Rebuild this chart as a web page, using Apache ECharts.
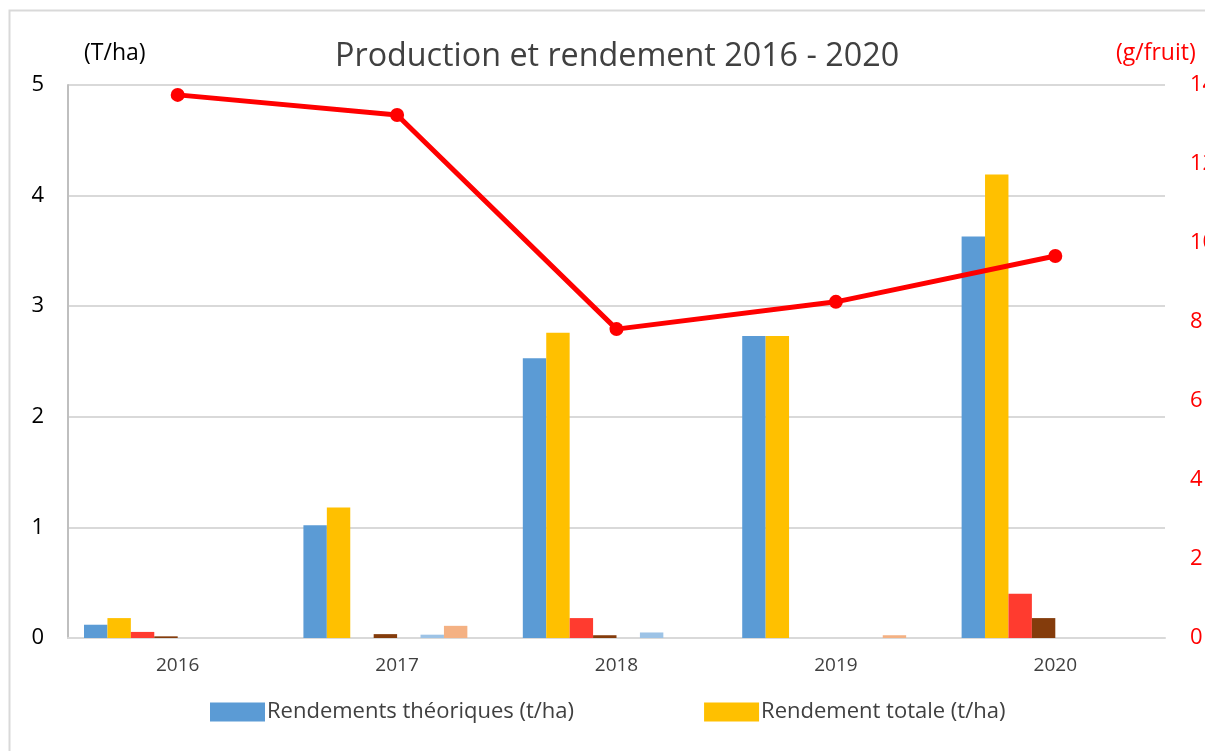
<!DOCTYPE html>
<html>
<head>
<meta charset="utf-8">
<script src="https://cdn.jsdelivr.net/npm/echarts@6/dist/echarts.min.js"></script>
<style>html,body{margin:0;padding:0;background:#fff}#c{width:1205px;height:751px}</style>
</head>
<body>
<div id="c"></div>
<script>
const categories = ['2016', '2017', '2018', '2019', '2020'];
const rendementsTheoriques = [0.12, 1.02, 2.53, 2.73, 3.63];
const rendementTotale = [0.18, 1.18, 2.76, 2.73, 4.19];
const serie3 = [0.055, 0, 0.18, 0, 0.40];
const serie4 = [0.015, 0.035, 0.025, 0, 0.18];
const serie5 = [0, 0, 0, 0, 0];
const serie6 = [0, 0.03, 0.05, 0, 0];
const serie7 = [0, 0.11, 0, 0.025, 0];
const serie8 = [0, 0, 0, 0, 0];
const poidsFruit = [13.75, 13.24, 7.82, 8.51, 9.67];
const leftTicks = [0, 1, 2, 3, 4, 5];
const rightTicks = [0, 2, 4, 6, 8, 10, 12, 14];

const font = '"Open Sans", "Noto Sans", sans-serif';
const chart = echarts.init(document.getElementById('c'));

function bar(name, data, color) {
  return { name, type: 'bar', data, yAxisIndex: 0, barGap: '0%', barCategoryGap: '14.6%',
           itemStyle: { color }, emphasis: { disabled: true } };
}

chart.setOption({
  animation: false,
  backgroundColor: '#fff',
  title: {
    text: 'Production et rendement 2016 - 2020',
    left: 330, top: 36,
    textStyle: { fontFamily: font, fontSize: 32.3, fontWeight: 'normal', color: '#404040' }
  },
  graphic: [
    { type: 'rect', shape: { x: 9.5, y: 10.5, width: 1300, height: 800 }, style: { fill: 'none', stroke: '#d9d9d9', lineWidth: 2 }, silent: true },
    { type: 'text', left: 84, top: 42, style: { text: '(T/ha)', font: '23px ' + font, fill: '#000' } },
    { type: 'text', left: 1116, top: 42, style: { text: '(g/fruit)', font: '23px ' + font, fill: '#ff0000' } }
  ],
  legend: {
    data: ['Rendements théoriques (t/ha)', 'Rendement totale (t/ha)'],
    left: 205, top: 696,
    itemWidth: 55, itemHeight: 19, itemGap: 130,
    icon: 'rect',
    textStyle: { fontFamily: font, fontSize: 22, color: '#404040', padding: [0, 0, 0, -3] }
  },
  grid: { left: 68, right: 40, top: 85, bottom: 113, containLabel: false, outerBoundsMode: 'none' },
  xAxis: {
    type: 'category', data: categories,
    axisLine: { lineStyle: { color: '#d9d9d9', width: 2 } },
    axisTick: { show: false },
    axisLabel: { fontFamily: font, fontSize: 19, color: '#404040', margin: 18 }
  },
  yAxis: [
    {
      type: 'value', min: leftTicks[0], max: leftTicks[leftTicks.length - 1], interval: 1,
      axisLine: { show: true, lineStyle: { color: '#bfbfbf', width: 2 } },
      axisTick: { show: false },
      splitLine: { lineStyle: { color: '#d9d9d9', width: 2 } },
      axisLabel: { fontFamily: font, fontSize: 22, color: '#000', margin: 24 }
    },
    {
      type: 'value', min: rightTicks[0], max: rightTicks[rightTicks.length - 1], interval: 2,
      position: 'right',
      axisLine: { show: false }, axisTick: { show: false }, splitLine: { show: false },
      axisLabel: { fontFamily: font, fontSize: 22, color: '#ff0000', margin: 25 }
    }
  ],
  series: [
    bar('Rendements théoriques (t/ha)', rendementsTheoriques, '#5b9bd5'),
    bar('Rendement totale (t/ha)', rendementTotale, '#ffc000'),
    bar('Série 3', serie3, '#ff3b2f'),
    bar('Série 4', serie4, '#843c0c'),
    bar('Série 5', serie5, '#a5a5a5'),
    bar('Série 6', serie6, '#9dc3e6'),
    bar('Série 7', serie7, '#f4b183'),
    bar('Série 8', serie8, '#70ad47'),
    {
      name: 'Poids moyen (g/fruit)', type: 'line', yAxisIndex: 1, data: poidsFruit,
      symbol: 'circle', symbolSize: 14,
      lineStyle: { color: '#ff0000', width: 5 },
      itemStyle: { color: '#ff0000' }, z: 5
    }
  ]
});
</script>
</body>
</html>
